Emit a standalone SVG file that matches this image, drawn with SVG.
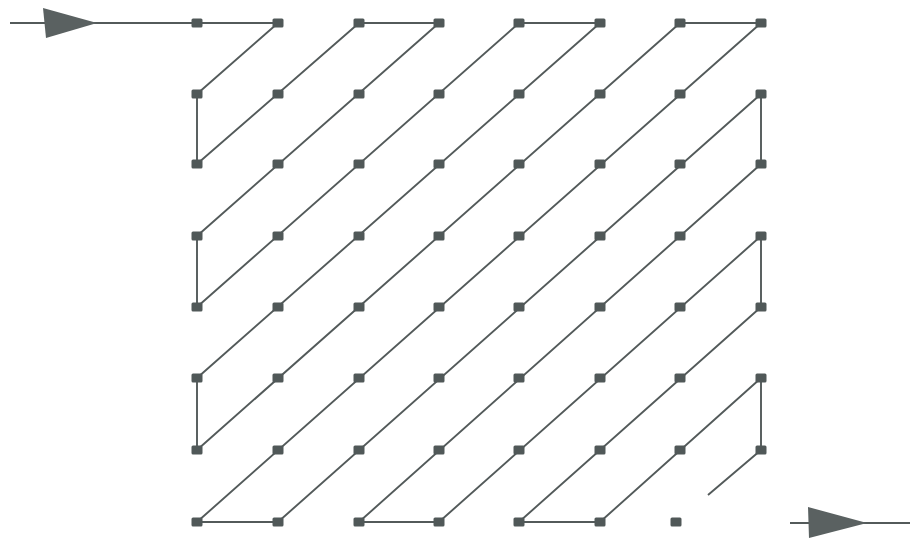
<svg xmlns="http://www.w3.org/2000/svg" width="910" height="540" viewBox="0 0 910 540">
<style>
.dot{fill:#505858}
.ln{fill:none;stroke:#535a5a;stroke-width:1.9;stroke-linejoin:round}
.ah{fill:#5a6161}
</style>
<defs>
<rect id="d" x="-5.5" y="-4.5" width="11" height="9" rx="1.5" class="dot"/>
</defs>
<rect width="910" height="540" fill="#ffffff"/>
<g id="connectors">
<polyline class="ln" points="197,23 278,23 197,94 197,164 359,23 439,23 197,236 197,307 519,23 600,23 197,378 197,450 680,23 761,23 197,522 278,522 761,94 761,164 359,522 439,522 761,236 761,307 519,522 600,522 761,378 761,450 708,495"/>
<path class="ln" d="M10,23 H197"/>
<polygon class="ah" points="43,8 46,38 97,23"/>
<path class="ln" d="M790,523 H910"/>
<polygon class="ah" points="808,507 809,538 867,523"/>
</g>
<g id="n00"><use href="#d" x="197" y="23"/></g>
<g id="n10"><use href="#d" x="278" y="23"/></g>
<g id="n20"><use href="#d" x="359" y="23"/></g>
<g id="n30"><use href="#d" x="439" y="23"/></g>
<g id="n40"><use href="#d" x="519" y="23"/></g>
<g id="n50"><use href="#d" x="600" y="23"/></g>
<g id="n60"><use href="#d" x="680" y="23"/></g>
<g id="n70"><use href="#d" x="761" y="23"/></g>
<g id="n01"><use href="#d" x="197" y="94"/></g>
<g id="n11"><use href="#d" x="278" y="94"/></g>
<g id="n21"><use href="#d" x="359" y="94"/></g>
<g id="n31"><use href="#d" x="439" y="94"/></g>
<g id="n41"><use href="#d" x="519" y="94"/></g>
<g id="n51"><use href="#d" x="600" y="94"/></g>
<g id="n61"><use href="#d" x="680" y="94"/></g>
<g id="n71"><use href="#d" x="761" y="94"/></g>
<g id="n02"><use href="#d" x="197" y="164"/></g>
<g id="n12"><use href="#d" x="278" y="164"/></g>
<g id="n22"><use href="#d" x="359" y="164"/></g>
<g id="n32"><use href="#d" x="439" y="164"/></g>
<g id="n42"><use href="#d" x="519" y="164"/></g>
<g id="n52"><use href="#d" x="600" y="164"/></g>
<g id="n62"><use href="#d" x="680" y="164"/></g>
<g id="n72"><use href="#d" x="761" y="164"/></g>
<g id="n03"><use href="#d" x="197" y="236"/></g>
<g id="n13"><use href="#d" x="278" y="236"/></g>
<g id="n23"><use href="#d" x="359" y="236"/></g>
<g id="n33"><use href="#d" x="439" y="236"/></g>
<g id="n43"><use href="#d" x="519" y="236"/></g>
<g id="n53"><use href="#d" x="600" y="236"/></g>
<g id="n63"><use href="#d" x="680" y="236"/></g>
<g id="n73"><use href="#d" x="761" y="236"/></g>
<g id="n04"><use href="#d" x="197" y="307"/></g>
<g id="n14"><use href="#d" x="278" y="307"/></g>
<g id="n24"><use href="#d" x="359" y="307"/></g>
<g id="n34"><use href="#d" x="439" y="307"/></g>
<g id="n44"><use href="#d" x="519" y="307"/></g>
<g id="n54"><use href="#d" x="600" y="307"/></g>
<g id="n64"><use href="#d" x="680" y="307"/></g>
<g id="n74"><use href="#d" x="761" y="307"/></g>
<g id="n05"><use href="#d" x="197" y="378"/></g>
<g id="n15"><use href="#d" x="278" y="378"/></g>
<g id="n25"><use href="#d" x="359" y="378"/></g>
<g id="n35"><use href="#d" x="439" y="378"/></g>
<g id="n45"><use href="#d" x="519" y="378"/></g>
<g id="n55"><use href="#d" x="600" y="378"/></g>
<g id="n65"><use href="#d" x="680" y="378"/></g>
<g id="n75"><use href="#d" x="761" y="378"/></g>
<g id="n06"><use href="#d" x="197" y="450"/></g>
<g id="n16"><use href="#d" x="278" y="450"/></g>
<g id="n26"><use href="#d" x="359" y="450"/></g>
<g id="n36"><use href="#d" x="439" y="450"/></g>
<g id="n46"><use href="#d" x="519" y="450"/></g>
<g id="n56"><use href="#d" x="600" y="450"/></g>
<g id="n66"><use href="#d" x="680" y="450"/></g>
<g id="n76"><use href="#d" x="761" y="450"/></g>
<g id="n07"><use href="#d" x="197" y="522"/></g>
<g id="n17"><use href="#d" x="278" y="522"/></g>
<g id="n27"><use href="#d" x="359" y="522"/></g>
<g id="n37"><use href="#d" x="439" y="522"/></g>
<g id="n47"><use href="#d" x="519" y="522"/></g>
<g id="n57"><use href="#d" x="600" y="522"/></g>
<g id="n67"><use href="#d" x="676" y="522"/></g>
</svg>
